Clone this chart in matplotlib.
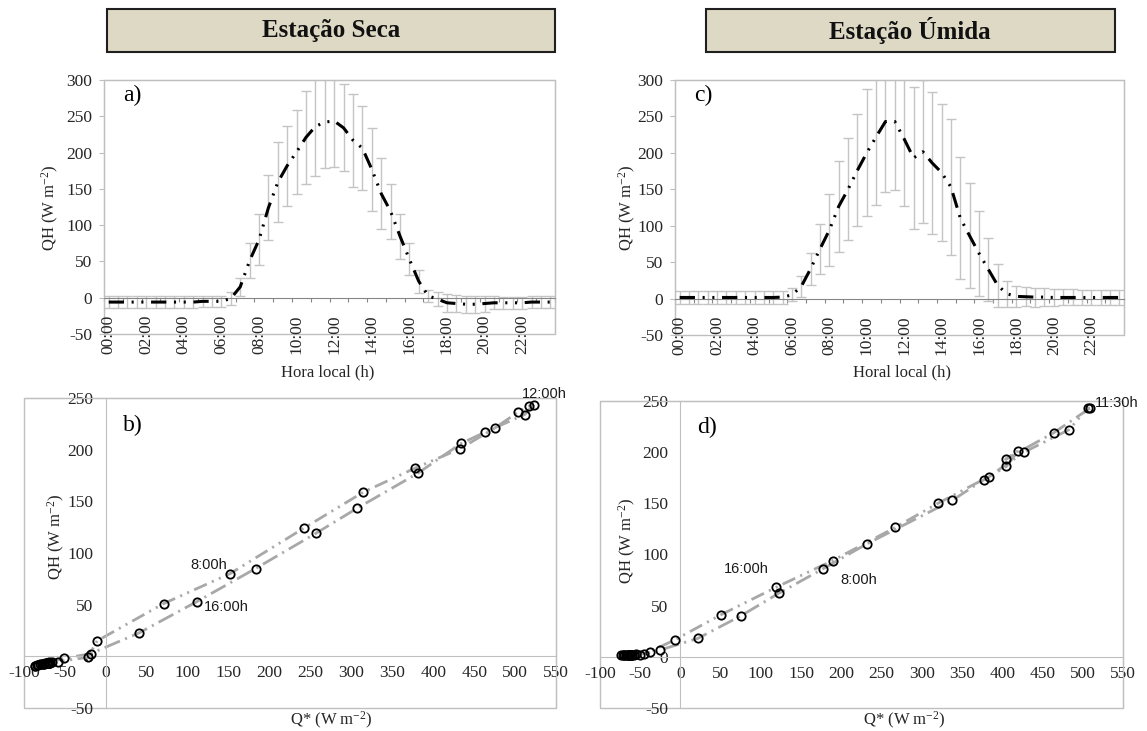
import numpy as np
import matplotlib
matplotlib.use("Agg")
import matplotlib.pyplot as plt
from matplotlib.patches import Rectangle

plt.rcParams['font.family'] = ['Liberation Serif', 'DejaVu Serif']
plt.rcParams['mathtext.fontset'] = 'custom'
plt.rcParams['mathtext.rm'] = 'Liberation Serif'
plt.rcParams['axes.unicode_minus'] = False
plt.rcParams['lines.scale_dashes'] = False

# tamanho da figura em pixels
W, H = 1147, 731

# rótulos do eixo horário (a cada 2 h, dados a cada 30 min)
hour_labels = ['00:00', '02:00', '04:00', '06:00', '08:00', '10:00',
               '12:00', '14:00', '16:00', '18:00', '20:00', '22:00']

# --- Estação seca: QH médio (W m-2) a cada 30 min, 00:00 .. 23:30
qh_seca = [-6, -6, -6, -6, -6, -6, -6, -6, -6, -6, -5, -5,
           -5, -1, 15, 51, 80, 124, 159, 182, 201, 221, 236, 242,
           243.5, 234, 217, 206, 177, 143.5, 119, 85, 53, 22.6, 2.6, -2,
           -7, -8, -9, -9, -8, -7, -7, -7, -7, -6, -6, -6]
# desvio padrão
err_seca = [8, 8, 8, 8, 8, 8, 8, 8, 8, 8, 8, 8,
            8, 9, 12, 24, 35, 45, 55, 55, 58, 64, 68, 63,
            64, 60, 64, 58, 57, 49, 38, 31, 22, 16, 8, 10,
            12, 12, 12, 12, 11, 9, 8, 8, 8, 8, 8, 8]
# saldo de radiação Q* (W m-2)
qstar_seca = [-68, -69, -70, -70, -71, -71, -72, -72, -72, -71, -70, -66,
              -58, -22, -10.6, 70.5, 151.7, 241.8, 314.8, 377.5, 433, 475.4, 503, 516.6,
              522.7, 511.7, 463.6, 434, 380.8, 307.4, 256.5, 183, 111.3, 40.4, -18.7, -51,
              -78, -84, -87, -86, -83, -80, -78, -76, -75, -74, -72, -70]

# --- Estação úmida
qh_umida = [1.5, 1.5, 1.5, 1.5, 1.5, 1.5, 1.5, 1.5, 1.5, 1.5, 1.5, 2,
            5, 16.6, 41, 68, 94, 126.5, 150, 176, 200, 222, 243, 243,
            219, 193, 201.5, 186, 173, 153, 110.5, 86, 62, 40, 18, 6.5,
            3, 2.5, 2, 2, 1.5, 1.5, 1.5, 1.5, 1.5, 1.5, 1.5, 1.5]
err_umida = [9, 9, 9, 9, 9, 9, 9, 9, 9, 9, 9, 9,
             9, 15, 22, 34, 49, 62, 70, 77, 87, 94, 97, 94,
             92, 97, 98, 98, 94, 93, 84, 72, 58, 43.5, 30, 18,
             14, 13, 13, 12, 12, 11, 11, 10, 10, 10, 10, 10]
qstar_umida = [-60, -61, -62, -62, -63, -63, -64, -64, -63, -62, -58, -50,
               -38, -7, 50, 119, 189, 267, 320, 383, 427, 483, 506, 509,
               464, 404, 420, 405, 377, 338, 232, 177, 122, 75, 21.5, -26,
               -45, -55, -65, -70, -74, -72, -70, -68, -66, -65, -63, -61]

FRAME = '#BFBFBF'
AXIS = '#868686'
ERR = '#C4C4C4'
LINE = '#A8A8A8'
TXT = '#262626'
TICK_FS = 12.5
YLAB = 'QH (W m$\\mathregular{^{-2}}$)'
XLAB = 'Q* (W m$\\mathregular{^{-2}}$)'


def px_axes(fig, left, top, right, bottom):
    return fig.add_axes([left / W, 1 - bottom / H, (right - left) / W, (bottom - top) / H])


def fig_text(fig, x, y, s, **kw):
    fig.text(x / W, 1 - y / H, s, **kw)


def add_frame(ax):
    ax.add_patch(Rectangle((0, 0), 1, 1, transform=ax.transAxes, fill=False,
                           ec=FRAME, lw=1, clip_on=False, zorder=0))


def plot_diurnal(ax, qh, err, panel):
    x = np.arange(len(qh))
    ax.errorbar(x, qh, yerr=err, fmt='none', ecolor=ERR, elinewidth=1,
                capsize=3.5, capthick=1, zorder=2)
    ax.plot(x, qh, color='black', lw=2.2,
            ls=(0, (11, 5.5, 1.5, 5.5, 1.5, 5.5)), zorder=3)
    ax.set_xlim(-0.5, 47.5)
    ax.set_ylim(-50, 300)
    for s in ('top', 'right', 'left'):
        ax.spines[s].set_color(FRAME)
    ax.spines['bottom'].set_position(('data', 0))
    ax.spines['bottom'].set_color(AXIS)
    ax.set_yticks(range(-50, 301, 50))
    ax.tick_params(axis='y', direction='out', length=3.6, width=0.8, color=FRAME,
                   pad=5, labelsize=TICK_FS, labelcolor=TXT)
    ax.set_xticks(np.arange(-0.5, 48, 2))
    ax.set_xticklabels([])
    ax.tick_params(axis='x', direction='out', length=3, width=0.8, color=AXIS)
    for k, lab in enumerate(hour_labels):
        ax.text(4 * k, -50, lab, rotation=90, ha='center', va='center',
                fontsize=TICK_FS, color=TXT)
    add_frame(ax)
    ax.text(0.042, 0.94, panel, transform=ax.transAxes, fontsize=17,
            ha='left', va='center')


def plot_scatter(ax, qstar, qh, split, panel, notes):
    ax.plot(qstar[:split + 1], qh[:split + 1], color=LINE, lw=2,
            ls=(0, (10, 4, 1.5, 4, 1.5, 4)), zorder=2)
    ax.plot(qstar[split:], qh[split:], color=LINE, lw=2,
            ls=(0, (12, 4, 1.5, 4)), zorder=2)
    ax.plot(qstar, qh, ls='none', marker='o', ms=6, mfc='none', mec='black',
            mew=1.3, zorder=3)
    ax.set_xlim(-100, 550)
    ax.set_ylim(-50, 250)
    for s in ('top', 'right'):
        ax.spines[s].set_color(FRAME)
    for s in ('left', 'bottom'):
        ax.spines[s].set_position(('data', 0))
        ax.spines[s].set_color(FRAME)
    ax.set_xticks(range(-100, 551, 50))
    ax.set_yticks(range(-50, 251, 50))
    ax.tick_params(axis='x', length=0, pad=6.5, labelsize=TICK_FS, labelcolor=TXT)
    ax.tick_params(axis='y', length=0, pad=9, labelsize=TICK_FS, labelcolor=TXT)
    add_frame(ax)
    ax.text(0.186, 0.913, panel, transform=ax.transAxes, fontsize=17,
            ha='left', va='center')
    for qx, qy, s, ha in notes:
        ax.text(qx, qy, s, ha=ha, va='center', fontsize=10.5,
                family=['Liberation Sans', 'DejaVu Sans'], color='#1a1a1a',
                clip_on=False, zorder=4)


fig = plt.figure(figsize=(W / 100, H / 100), dpi=100)

# caixas de título
for (x0, x1, title, xc) in [(107, 555, 'Estação Seca', 331), (706, 1115, 'Estação Úmida', 910)]:
    fig.patches.append(Rectangle((x0 / W, 1 - 52 / H), (x1 - x0) / W, 43 / H,
                                 transform=fig.transFigure, fc='#DDD9C4',
                                 ec='#1f1f1f', lw=1.5))
    fig_text(fig, xc, 31, title, fontsize=18, fontweight='bold',
             ha='center', va='center', color='#111111')

ax_a = px_axes(fig, 104, 80, 555, 334)
plot_diurnal(ax_a, qh_seca, err_seca, 'a)')
ax_c = px_axes(fig, 675, 80, 1124, 335)
plot_diurnal(ax_c, qh_umida, err_umida, 'c)')

ax_b = px_axes(fig, 24, 398, 556, 708)
plot_scatter(ax_b, qstar_seca, qh_seca, 24, 'b)',
             [(508, 254, '12:00h', 'left'), (148, 88, '8:00h', 'right'),
              (120, 48, '16:00h', 'left')])
ax_d = px_axes(fig, 600, 401, 1123, 708)
plot_scatter(ax_d, qstar_umida, qh_umida, 23, 'd)',
             [(515.5, 248, '11:30h', 'left'), (54, 86, '16:00h', 'left'),
              (199, 75, '8:00h', 'left')])

# títulos dos eixos
fig_text(fig, 50, 208, YLAB, rotation=90, ha='center', va='center', fontsize=12, color=TXT)
fig_text(fig, 627, 208, YLAB, rotation=90, ha='center', va='center', fontsize=12, color=TXT)
fig_text(fig, 56, 537, YLAB, rotation=90, ha='center', va='center', fontsize=12, color=TXT)
fig_text(fig, 627, 541, YLAB, rotation=90, ha='center', va='center', fontsize=12, color=TXT)
fig_text(fig, 328, 372, 'Hora local (h)', ha='center', va='center', fontsize=12, color=TXT)
fig_text(fig, 902, 372, 'Horal local (h)', ha='center', va='center', fontsize=12, color=TXT)
fig_text(fig, 331, 720, XLAB, ha='center', va='center', fontsize=12, color=TXT)
fig_text(fig, 904, 720, XLAB, ha='center', va='center', fontsize=12, color=TXT)

fig.savefig('out.png', dpi=100, facecolor='white')
